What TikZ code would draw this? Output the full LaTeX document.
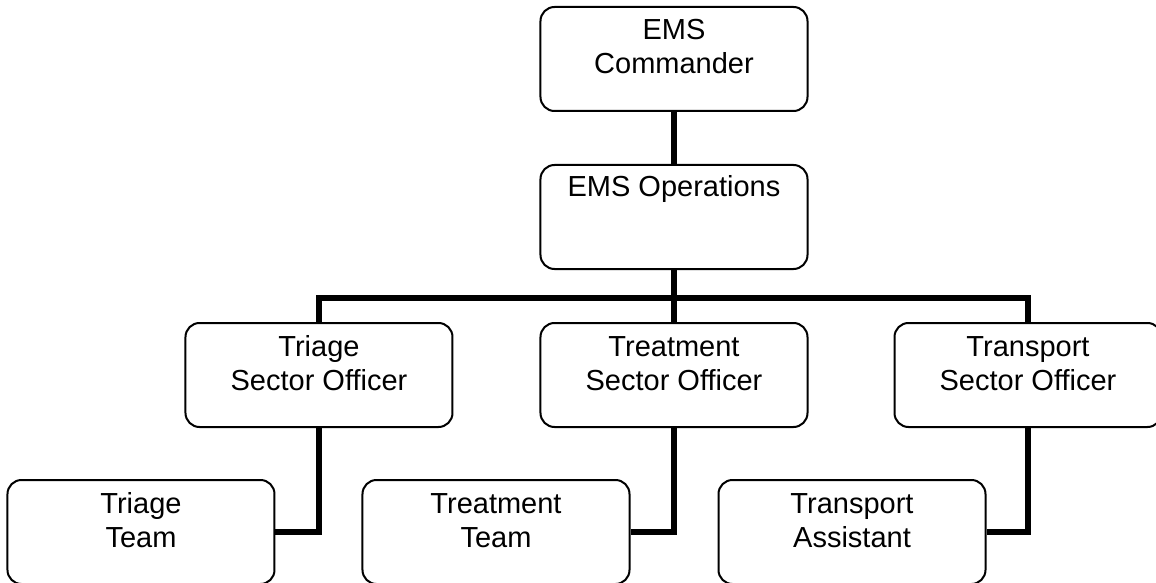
\documentclass[tikz,border=0pt]{standalone}
\usepackage{fontspec}
\setmainfont{Liberation Sans}
\usetikzlibrary{positioning,calc}
\tikzset{
  box/.style={rectangle, draw=black, line width=1pt, rounded corners=7pt, fill=white,
    minimum width=133.5pt, inner xsep=0pt, inner ysep=0pt,
    text height=33.5pt, text depth=18.5pt},
  onebox/.style={box, text height=15.5pt, text depth=36.5pt},
  link/.style={draw=black, line width=3pt},
}

\begin{document}
\begin{tikzpicture}[
  font=\fontsize{14.5}{17}\selectfont,
  every node/.style={align=center}
]
  \useasboundingbox (-337pt,30pt) rectangle (241pt,-261.5pt);

  \node[box] (cmd) at (0,0.5pt) {EMS\\Commander};
  \node[onebox, below=26pt of cmd] (ops) {EMS Operations};
  \node[box, below=26pt of ops] (treSO) {Treatment\\Sector Officer};
  \node[box, left=43pt of treSO] (triSO) {Triage\\Sector Officer};
  \node[box, right=42.5pt of treSO] (traSO) {Transport\\Sector Officer};

  \node[box, below=25.5pt of triSO, xshift=-89pt] (triTeam) {Triage\\Team};
  \node[box, below=25.5pt of treSO, xshift=-89pt] (treTeam) {Treatment\\Team};
  \node[box, below=25.5pt of traSO, xshift=-88pt] (traAsst) {Transport\\Assistant};

  \coordinate (bar) at ($(ops.south)!0.53!(treSO.north)$);

  \draw[link] (cmd) -- (ops);
  \draw[link] (ops) -- (treSO);
  \draw[link] (triSO.north) |- (bar) -| (traSO.north);

  \draw[link] (triSO.south) |- (triTeam.east);
  \draw[link] (treSO.south) |- (treTeam.east);
  \draw[link] (traSO.south) |- (traAsst.east);
\end{tikzpicture}
\end{document}
